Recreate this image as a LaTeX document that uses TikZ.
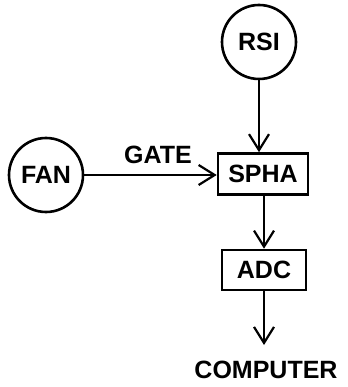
\documentclass[tikz,border=0pt]{standalone}
\usepackage{fontspec}
\setmainfont{Liberation Sans}
\usetikzlibrary{arrows.meta}
\begin{document}
\begin{tikzpicture}[x=1pt,y=-1pt,
  every node/.style={font=\fontsize{25}{28}\selectfont\bfseries},
  circ/.style={draw,circle,line width=2.6pt,minimum size=74pt,inner sep=0pt},
  blk/.style={draw,rectangle,line width=2.6pt,inner sep=0pt},
  conn/.style={line width=2.2pt,-{Straight Barb[length=16pt,width=20pt,line width=2.2pt]}},
  lbl/.style={inner sep=0pt}]
\useasboundingbox (0,0) rectangle (347,387);
\node[circ] (rsi) at (259,42) {RSI};
\node[circ] (fan) at (46,175) {FAN};
\node[blk,minimum width=90pt,minimum height=41pt] (spha) at (263,174) {SPHA};
\node[blk,minimum width=84pt,minimum height=40pt] (adc) at (264,270) {ADC};
\node[lbl] (gate) at (158,155) {GATE};
\node[lbl] (comp) at (266,370) {COMPUTER};
\coordinate (cend) at (264,345);
\draw[conn] (rsi.south) -- (rsi.south |- spha.north);
\draw[conn] (fan.east) -- (fan.east -| spha.west);
\draw[conn] (spha.south -| adc.north) -- (adc.north);
\draw[conn] (adc.south) -- (cend);
\end{tikzpicture}
\end{document}
